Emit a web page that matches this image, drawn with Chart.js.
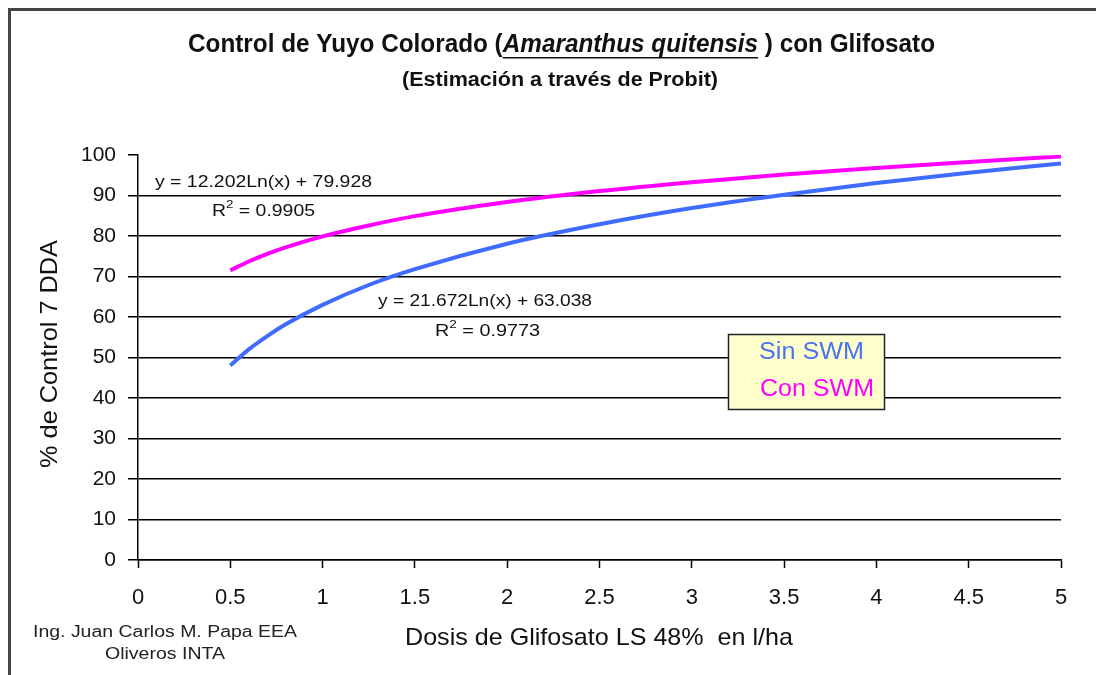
<!DOCTYPE html>
<html><head><meta charset="utf-8">
<script src="https://cdn.jsdelivr.net/npm/chart.js@4.4.0/dist/chart.umd.min.js"></script>
<style>html,body{margin:0;padding:0;background:#fff;overflow:hidden}canvas{display:block}</style>
</head><body><canvas id="c" width="1096" height="675"></canvas>
<script>
const doses  = [0.5, 0.6, 0.7, 0.8, 1, 1.25, 1.5, 2, 2.5, 3, 3.5, 4, 4.5, 5];
// "Con SWM" (magenta) curve readings, % control
const conSWM = [71.5, 73.7, 75.6, 77.2, 79.9, 82.6, 84.9, 88.4, 91.1, 93.3, 95.2, 96.8, 98.3, 99.6];
// "Sin SWM" (blue) curve readings, % control
const sinSWM = [48.0, 52.0, 55.3, 58.2, 63.0, 67.9, 71.8, 78.1, 82.9, 86.9, 90.2, 93.1, 95.6, 97.9];
const seriesNames = ["Sin SWM", "Con SWM"];
const xTickLabels = ["0","0.5","1","1.5","2","2.5","3","3.5","4","4.5","5"];
const yTickLabels = ["0","10","20","30","40","50","60","70","80","90","100"];

const titleParts = ["Control de Yuyo Colorado (", "Amaranthus quitensis", " ) con Glifosato"];
const subtitle = "(Estimación a través de Probit)";
const xTitle = "Dosis de Glifosato LS 48%  en l/ha";
const yTitle = "% de Control 7 DDA";
const author = ["Ing. Juan Carlos M. Papa EEA", "Oliveros INTA"];
const eqCon = ["y = 12.202Ln(x) + 79.928", "0.9905"];
const eqSin = ["y = 21.672Ln(x) + 63.038", "0.9773"];

const BLUE = '#3f6cff', MAG = '#ff00ff';
const FF = '"Liberation Sans", Arial, sans-serif';

function fitParts(ctx, parts, x, y, width, align) {
  let total = 0;
  parts.forEach(p => { ctx.font = p.font; p.w = ctx.measureText(p.t).width; total += p.w; });
  const sx = width / total;
  const x0 = align === 'center' ? x - width / 2 : x;
  ctx.save();
  ctx.translate(x0, y);
  ctx.scale(sx, 1);
  ctx.textBaseline = 'middle';
  ctx.textAlign = 'left';
  let cx = 0;
  parts.forEach(p => {
    ctx.font = p.font;
    ctx.fillStyle = p.color || '#111';
    ctx.fillText(p.t, cx, p.dy || 0);
    if (p.underline) {
      ctx.fillRect(cx, 12, p.w, 1.5);
    }
    cx += p.w;
  });
  ctx.restore();
}

const textPlugin = {
  id: 'texts',
  beforeDraw(chart) {
    const ctx = chart.ctx;
    ctx.save();
    ctx.fillStyle = '#fff';
    ctx.fillRect(0, 0, chart.width, chart.height);
    ctx.fillStyle = '#444';
    ctx.fillRect(8, 8, chart.width - 8, 3);
    ctx.fillRect(8, 8, 3, chart.height - 8);
    ctx.restore();
  },
  afterDraw(chart) {
    const ctx = chart.ctx;
    const tf = 'bold 25px ' + FF;
    fitParts(ctx, [
      {t: titleParts[0], font: tf},
      {t: titleParts[1], font: 'italic ' + tf, underline: true},
      {t: titleParts[2], font: tf}
    ], 188, 45, 747, 'left');
    fitParts(ctx, [{t: subtitle, font: 'bold 20px ' + FF}], 402, 80, 316, 'left');

    // axis titles
    fitParts(ctx, [{t: xTitle, font: '24px ' + FF}], 405, 638, 388, 'left');
    ctx.save();
    ctx.translate(50, 354);
    ctx.rotate(-Math.PI / 2);
    fitParts(ctx, [{t: yTitle, font: '24px ' + FF}], 0, 0, 228, 'center');
    ctx.restore();

    // author
    fitParts(ctx, [{t: author[0], font: '16px ' + FF, color: '#222'}], 33, 633, 264, 'left');
    fitParts(ctx, [{t: author[1], font: '16px ' + FF, color: '#222'}], 105, 655, 120, 'left');

    // equations
    const ef = '16px ' + FF, sf = '11px ' + FF;
    fitParts(ctx, [{t: eqCon[0], font: ef}], 155, 183, 217, 'left');
    fitParts(ctx, [{t: 'R', font: ef}, {t: '2', font: sf, dy: -7}, {t: ' = ' + eqCon[1], font: ef}], 212, 212, 103, 'left');
    fitParts(ctx, [{t: eqSin[0], font: ef}], 378, 302, 214, 'left');
    fitParts(ctx, [{t: 'R', font: ef}, {t: '2', font: sf, dy: -7}, {t: ' = ' + eqSin[1], font: ef}], 435, 332, 105, 'left');

    // legend box
    ctx.save();
    ctx.fillStyle = '#ffffcc';
    ctx.fillRect(728, 334, 157, 76);
    ctx.strokeStyle = '#222';
    ctx.lineWidth = 1.5;
    ctx.strokeRect(728.5, 334.5, 156, 75);
    ctx.restore();
    fitParts(ctx, [{t: seriesNames[0], font: '23px ' + FF, color: '#4a72f2'}], 759, 353, 105, 'left');
    fitParts(ctx, [{t: seriesNames[1], font: '23px ' + FF, color: MAG}], 760, 390, 114, 'left');
  }
};

const mk = (vals) => doses.map((d, i) => ({x: d, y: vals[i]}));

new Chart(document.getElementById('c'), {
  type: 'line',
  data: {
    datasets: [
      {label: seriesNames[0], data: mk(sinSWM), borderColor: BLUE, borderWidth: 4, pointRadius: 0, cubicInterpolationMode: 'monotone', fill: false},
      {label: seriesNames[1], data: mk(conSWM), borderColor: MAG, borderWidth: 4, pointRadius: 0, cubicInterpolationMode: 'monotone', fill: false}
    ]
  },
  options: {
    responsive: false,
    animation: false,
    devicePixelRatio: 1,
    layout: {padding: {top: 155, right: 35, bottom: 0, left: 0}},
    plugins: {legend: {display: false}, title: {display: false}, tooltip: {enabled: false}},
    scales: {
      x: {
        type: 'linear', min: 0, max: 5,
        afterFit: s => { s.height = 115; },
        afterBuildTicks: s => { s.ticks = xTickLabels.map(v => ({value: parseFloat(v)})); },
        ticks: {callback: (v, i) => xTickLabels[i], color: '#111', font: {size: 22, family: FF}, padding: 17, maxRotation: 0, autoSkip: false},
        grid: {drawOnChartArea: false, drawTicks: true, tickLength: 8, tickColor: '#000', tickWidth: 1.5},
        border: {color: '#000', width: 1.5}
      },
      y: {
        min: 0, max: 100,
        afterFit: s => { s.width = 138; },
        afterBuildTicks: s => { s.ticks = yTickLabels.map(v => ({value: parseFloat(v)})); },
        ticks: {callback: (v, i) => yTickLabels[i], color: '#111', font: {size: 21, family: FF}, padding: 12},
        grid: {color: c => (c.tick && c.tick.value === 100) ? 'rgba(0,0,0,0)' : '#000', lineWidth: 1.5, tickLength: 10, tickColor: '#000', tickWidth: 1.5},
        border: {color: '#000', width: 1.5}
      }
    }
  },
  plugins: [textPlugin]
});
</script>
</body></html>
